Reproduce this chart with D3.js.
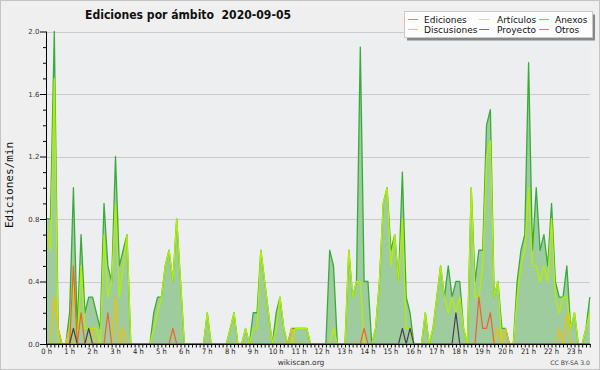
<!DOCTYPE html>
<html><head><meta charset="utf-8">
<script src="https://cdn.jsdelivr.net/npm/d3@7/dist/d3.min.js"></script>
<style>body{margin:0;background:#efefef;}svg{display:block}</style>
</head><body>
<svg id="chart" width="600" height="370"></svg>
<script>
// 10-minute buckets, edits per minute
const ediciones = [
 .8,.8,2.0,.1,0,0,.2,1.0,.1,.7, .2,.3,.3,.2,.1,.9,.5,.4,1.2,.5,
 .6,.7,0,0,0,0,0,0,.2,.3, .3,.5,.6,.4,.8,.4,0,0,0,0,
 0,0,.2,0,0,0,0,0,.1,.2, 0,0,.1,0,.2,.2,.6,.4,.2,0,
 .2,.3,.1,0,.1,.1,.1,.1,.1,0, 0,0,0,0,.6,.5,0,0,0,.6,
 .3,.4,1.9,.4,.4,0,.1,.4,.9,1.0, .6,.7,.4,1.1,.3,.2,0,0,0,.2,
 0,.1,.3,.5,.3,.5,.3,.4,.4,.1, 0,1.0,.4,.6,.6,1.4,1.5,.3,.4,.1,
 .1,0,0,.4,.6,.7,1.8,.6,1.0,.6, .7,.5,.9,.4,.3,.3,.5,.1,.2,0,
 0,.1,.3
];
const articulos = [
 .8,.6,1.7,0,0,0,.1,.4,0,.5, .1,.1,.1,.1,0,.7,.3,.4,.9,.3,
 .5,.7,0,0,0,0,0,0,.1,.2, .3,.5,.6,.4,.8,.4,0,0,0,0,
 0,0,.2,0,0,0,0,0,.1,.2, 0,0,.1,0,.1,.1,.6,.4,.2,0,
 .1,.3,.1,0,0,.1,.1,.1,.1,0, 0,0,0,0,0,.1,0,0,0,.6,
 .3,.4,.4,0,0,0,.1,.4,.9,1.0, .5,.7,.4,.8,.1,.1,0,0,0,.2,
 0,.1,.3,.5,.3,.2,.3,.2,.3,.1, 0,1.0,.3,.3,.5,1.2,1.3,.3,.4,0,
 0,0,0,.3,.5,.6,1.0,.5,.5,.4, .5,.4,.8,.3,.2,.3,.3,.1,.2,0,
 0,.1,.2
];
const anexos = [
 0,0,0,0,0,0,0,.5,0,.2, 0,0,0,0,0,0,.2,0,0,0,
 0,0,0,0,0,0,0,0,0,0, 0,0,0,.1,0,0,0,0,0,0,
 0,0,0,0,0,0,0,0,0,0, 0,0,0,0,0,0,0,0,0,0,
 0,0,0,0,0,0,0,0,0,0, 0,0,0,0,0,0,0,0,0,0,
 0,0,0,.1,0,0,0,0,0,0, 0,0,0,0,0,0,0,0,0,0,
 0,0,0,0,0,0,0,0,0,0, 0,0,0,.3,.1,.1,.2,0,0,0,
 0,0,0,0,0,0,0,0,0,0, 0,0,0,0,0,0,0,0,0,0,
 0,0,0
];
const discusiones = [
 0,0,.3,.1,0,0,.1,0,0,0, 0,0,.1,0,0,0,0,0,.3,0,
 .1,0,0,0,0,0,0,0,0,0, 0,0,0,0,0,0,0,0,0,0,
 0,0,0,0,0,0,0,0,0,0, 0,0,0,0,0,0,0,0,0,0,
 0,0,0,0,.1,0,0,0,0,0, 0,0,0,0,0,0,0,0,0,0,
 0,0,0,0,0,0,0,0,0,0, 0,0,0,0,0,0,0,0,0,0,
 0,0,0,0,0,0,0,0,0,0, 0,0,0,0,0,0,0,0,.1,0,
 .1,0,0,0,0,0,0,0,0,0, 0,0,0,0,.1,0,.2,0,0,0,
 0,0,0
];
const proyecto = [
 0,0,0,0,0,0,0,.1,0,0, 0,.1,0,0,0,0,0,0,0,0,
 0,0,0,0,0,0,0,0,0,0, 0,0,0,0,0,0,0,0,0,0,
 0,0,0,0,0,0,0,0,0,0, 0,0,0,0,0,0,0,0,0,0,
 0,0,0,0,0,0,0,0,0,0, 0,0,0,0,0,0,0,0,0,0,
 0,0,0,0,0,0,0,0,0,0, 0,0,0,.1,0,.1,0,0,0,0,
 0,0,0,0,0,0,0,.2,0,0, 0,0,0,0,0,0,0,0,0,0,
 0,0,0,0,0,0,0,0,0,0, 0,0,0,0,0,0,0,0,0,0,
 0,0,0
];
const otros = [
 0,0,0,0,0,0,0,0,0,0, 0,0,0,0,0,0,0,0,0,0,
 0,0,0,0,0,0,0,0,0,0, 0,0,0,0,0,0,0,0,0,0,
 0,0,0,0,0,0,0,0,0,0, 0,0,0,0,0,0,0,0,0,0,
 0,0,0,0,0,0,0,0,0,0, 0,0,0,0,0,0,0,0,0,0,
 0,0,0,0,0,0,0,0,0,0, 0,0,0,0,0,0,0,0,0,0,
 0,0,0,0,0,0,0,0,0,0, 0,0,0,0,0,0,0,0,0,0,
 0,0,0,0,0,0,0,0,0,0, 0,0,0,0,0,0,0,0,0,0,
 0,0,0
];
const hourLabels = ["0 h","1 h","2 h","3 h","4 h","5 h","6 h","7 h","8 h","9 h","10 h","11 h",
  "12 h","13 h","14 h","15 h","16 h","17 h","18 h","19 h","20 h","21 h","22 h","23 h"];
const yTickValues = [0, 0.4, 0.8, 1.2, 1.6, 2.0];
const legendNames = ["Ediciones","Artículos","Anexos","Discusiones","Proyecto","Otros"];
const chartTitle = "Ediciones por ámbito\u00a0\u00a02020-09-05";

const colors = {
  "Ediciones": "#3aab3a", fill: "#9ecc9e", "Artículos": "#b4ef00", "Anexos": "#f06428",
  "Discusiones": "#f2c200", "Proyecto": "#444444", "Otros": "#9a44ee"
};

(function(){
const svg = d3.select("#chart");
const W = 600, H = 370;
const pLeft = 46.65, pRight = 589.8, pTop = 31.5, pBottom = 344;

svg.append("rect").attr("x",0.5).attr("y",0.5).attr("width",W-1).attr("height",H-1)
  .attr("fill","#efefef").attr("stroke","#c4c4c4");

const n = ediciones.length;
const x = d3.scaleLinear().domain([0, n-1]).range([pLeft, pRight]);
const y = d3.scaleLinear().domain([0, 2]).range([pBottom, pTop]);

svg.append("rect").attr("x",46).attr("y",pTop).attr("width",pRight-46).attr("height",pBottom-pTop)
  .attr("fill","#eceef0");

svg.append("g").selectAll("line").data(yTickValues.filter(v=>v>0)).join("line")
  .attr("x1",46).attr("x2",pRight).attr("y1",d=>Math.round(y(d))+0.5).attr("y2",d=>Math.round(y(d))+0.5)
  .attr("stroke","#cbcbcb").attr("stroke-width",1);

const idx = d3.range(n);
const area = d3.area().x(i=>x(i)).y0(y(0)).y1(i=>y(ediciones[i]));
svg.append("path").datum(idx).attr("d",area).attr("fill",colors.fill);

const drawLine = (arr, color, w) => {
  const line = d3.line().x(i=>x(i)).y(i=>y(arr[i]));
  svg.append("path").datum(idx).attr("d",line).attr("fill","none")
    .attr("stroke",color).attr("stroke-width",w).attr("stroke-linejoin","round");
};
drawLine(ediciones, colors["Ediciones"], 1.3);
drawLine(articulos, colors["Artículos"], 1.3);
drawLine(discusiones, colors["Discusiones"], 1.2);
drawLine(anexos, colors["Anexos"], 1.2);
drawLine(proyecto, colors["Proyecto"], 1.2);
drawLine(otros, colors["Otros"], 1.2);

const yAxis = d3.axisLeft(y).tickValues(d3.range(0, 21).map(k=>k/10)).tickSize(3).tickFormat("");
const yg = svg.append("g").attr("transform","translate(46,0)").call(yAxis);
yg.select(".domain").attr("stroke","#000").attr("d",`M0.5,${pTop}V${pBottom}`);
yg.selectAll(".tick line").attr("stroke","#000")
  .attr("x2", d => (Math.round(d*10) % 4 === 0) ? -6 : -3);
svg.append("g").selectAll("text").data(yTickValues).join("text")
  .attr("x",39.5).attr("y",d=>y(d)+2.5).attr("text-anchor","end")
  .attr("font-family","DejaVu Sans").attr("font-size",7).attr("fill","#333")
  .text(d=>d3.format(".1f")(d));

const xAxis = d3.axisBottom(x).tickValues(idx).tickSize(3.5).tickFormat("");
const xg = svg.append("g").attr("transform",`translate(0,${pBottom})`).call(xAxis);
xg.select(".domain").attr("stroke","#000").attr("d",`M46,0.5H${pRight+0.5}`);
xg.selectAll(".tick line").attr("stroke","#000").attr("stroke-width",1);
svg.append("g").selectAll("text").data(hourLabels).join("text")
  .attr("x",(d,k)=>x(k*6)).attr("y",354).attr("text-anchor","middle")
  .attr("font-family","DejaVu Sans Condensed, DejaVu Sans").attr("font-size",7.5).attr("fill","#222")
  .text(d=>d);

svg.append("text").attr("transform","translate(13,185) rotate(-90)")
  .attr("text-anchor","middle").attr("font-family","DejaVu Sans Mono").attr("font-size",11)
  .attr("fill","#111").text("Ediciones/min");

svg.append("text").attr("x",85).attr("y",18.5).attr("font-family","DejaVu Sans Condensed, DejaVu Sans")
  .attr("font-weight","bold").attr("font-size",12.5).attr("fill","#111")
  .attr("textLength",206).attr("lengthAdjust","spacingAndGlyphs").text(chartTitle);

svg.append("text").attr("x",301).attr("y",364.5).attr("text-anchor","middle")
  .attr("font-family","DejaVu Sans").attr("font-size",7.5).attr("fill","#333").text("wikiscan.org");
svg.append("text").attr("x",590).attr("y",364.5).attr("text-anchor","end")
  .attr("font-family","DejaVu Sans").attr("font-size",6.2).attr("fill","#444").text("CC BY-SA 3.0");

const lg = svg.append("g");
lg.append("rect").attr("x",407).attr("y",14.5).attr("width",188).attr("height",26).attr("fill","#888");
lg.append("rect").attr("x",404.5).attr("y",11.5).attr("width",188).attr("height",26)
  .attr("fill","#fdfdfd").attr("stroke","#c8c8c8");
const colX = [408, 479, 539];
const textX = [424, 497, 555];
legendNames.forEach((name, k) => {
  const c = k % 3, r = Math.floor(k / 3);
  const ly = 19.5 + r * 10;
  lg.append("line").attr("x1",colX[c]).attr("x2",colX[c]+10).attr("y1",ly).attr("y2",ly)
    .attr("stroke",colors[name]).attr("stroke-width",1).attr("opacity",0.75);
  lg.append("text").attr("x",textX[c]).attr("y",ly+3.3)
    .attr("font-family","DejaVu Sans").attr("font-size",9).attr("fill","#111").text(name);
});
})();
</script>
</body></html>
